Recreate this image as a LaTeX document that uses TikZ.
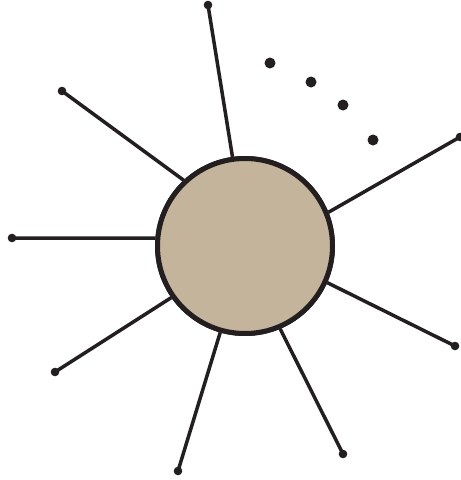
\documentclass[tikz,border=0pt]{standalone}
\definecolor{ink}{RGB}{35,31,32}
\definecolor{tan}{RGB}{196,180,155}
\begin{document}
\begin{tikzpicture}[x=1pt,y=-1pt,
  spoke/.style={draw=ink,line width=3.5pt},
  hub/.style={circle,draw=ink,fill=tan,line width=5pt,minimum size=175pt,inner sep=0pt},
  tipdot/.style={fill=ink},
  gapdot/.style={fill=ink}]
\useasboundingbox (0,0) rectangle (461,480);
\node[hub] (c) at (245,246) {};
\coordinate (p1) at (208,5);
\coordinate (p2) at (62,91);
\coordinate (p3) at (12,238);
\coordinate (p4) at (55,372);
\coordinate (p5) at (178,471);
\coordinate (p6) at (343,454);
\coordinate (p7) at (455,346);
\coordinate (p8) at (460,137);
\foreach \p/\a in {p1/98,p2/133,p3/175,p4/215,p5/254,p6/293,p7/336,p8/22}{
  \draw[spoke] (c.\a) -- (\p);
  \fill[tipdot] (\p) circle (4.3pt);
}
\node[hub] at (c) {};
\foreach \q in {(270,63),(311,82),(343,105),(373,140)}{
  \fill[gapdot] \q circle (5.5pt);
}
\end{tikzpicture}
\end{document}
